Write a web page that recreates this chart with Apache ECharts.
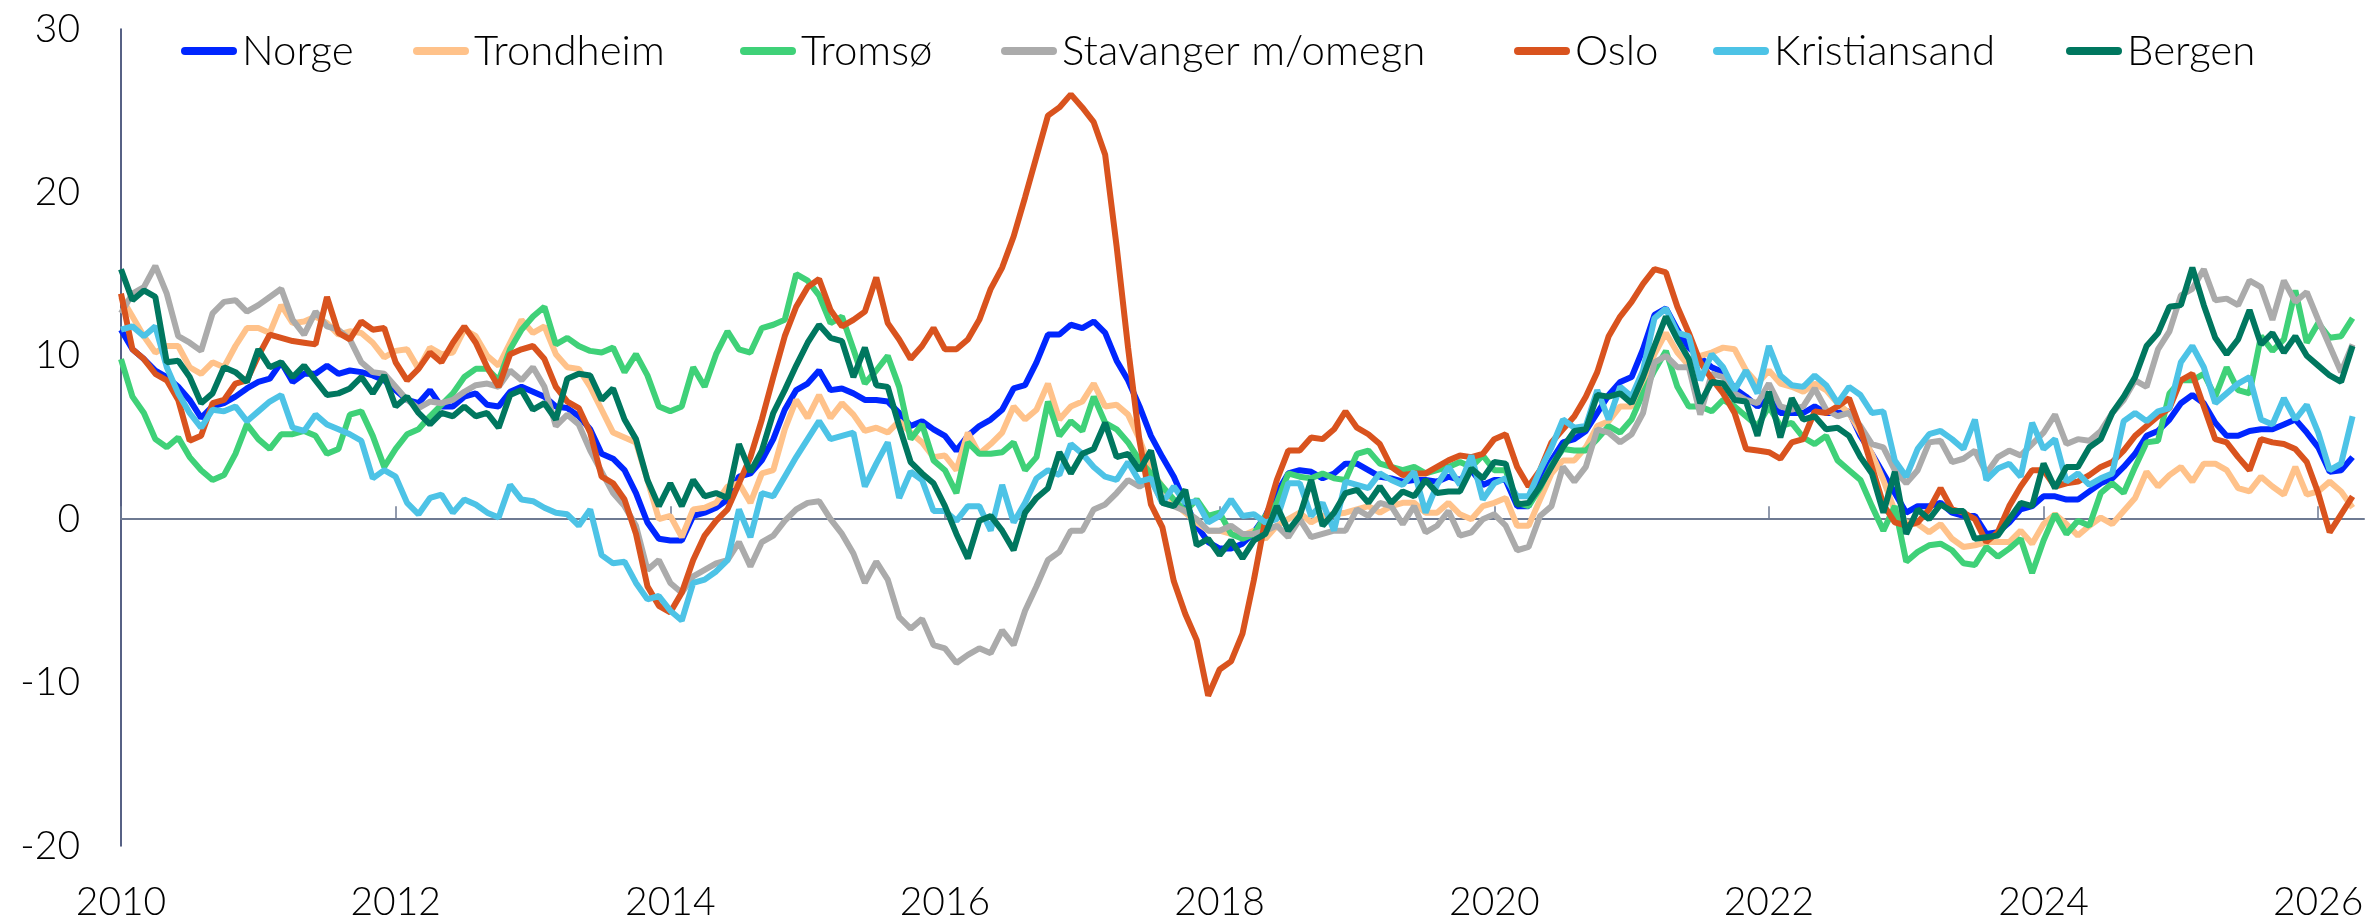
<!DOCTYPE html>
<html>
<head>
<meta charset="utf-8">
<script src="https://cdn.jsdelivr.net/npm/echarts@6/dist/echarts.min.js"></script>
<style>
  html, body { margin: 0; padding: 0; background: #fff; }
  #chart { width: 2370px; height: 923px; }
</style>
</head>
<body>
<div id="chart"></div>
<script>
// month labels, Jan 2010 .. May 2026 (last one has no data)
const months = [];
for (let y = 2010; y <= 2026; y++) {
  for (let m = 1; m <= 12; m++) {
    if (y === 2026 && m > 5) break;
    months.push(y + '-' + (m < 10 ? '0' + m : m));
  }
}

const seriesNames = ['Norge', 'Trondheim', 'Tromsø', 'Stavanger m/omegn', 'Oslo', 'Kristiansand', 'Bergen'];

const norge = [
  11.6,10.4,9.8,9.1,8.7,8.1,7.3,6.2,6.9,7.1,7.5,8.0,8.4,8.6,9.6,8.4,8.9,8.9,9.4,8.9,9.1,9.0,8.8,8.5,7.9,7.3,7.1,7.9,6.9,6.9,7.5,7.7,7.0,6.9,7.8,8.1,7.8,7.5,6.9,
  6.8,6.3,5.5,4.0,3.7,3.0,1.6,-0.2,-1.2,-1.3,-1.3,0.2,0.4,0.7,1.2,2.6,2.8,3.6,4.9,6.7,7.9,8.3,9.1,7.9,8.0,7.7,7.3,7.3,7.2,6.5,5.7,6.0,5.5,5.1,4.2,5.1,5.7,6.1,6.7,8.0,
  8.2,9.6,11.3,11.3,11.9,11.7,12.1,11.4,9.7,8.5,6.9,5.1,3.8,2.6,1.0,-0.4,-1.4,-1.8,-1.8,-1.5,-0.8,0.2,1.6,2.8,3.0,2.9,2.5,2.8,3.4,3.4,3.0,2.6,2.5,2.3,2.4,2.4,2.3,2.6,2.4,
  3.0,2.1,2.4,2.4,0.8,0.8,2.4,3.6,4.7,4.9,5.4,6.5,7.6,8.4,8.7,10.4,12.5,12.9,11.6,10.5,9.9,9.3,9.0,8.0,7.5,6.9,7.4,6.5,6.5,6.5,6.9,6.5,6.5,6.6,5.1,4.0,2.8,1.6,0.4,
  0.8,0.8,1.0,0.4,0.2,0.2,-0.9,-0.8,-0.2,0.6,0.8,1.4,1.4,1.2,1.2,1.7,2.2,2.5,3.2,4.0,5.1,5.4,6.1,7.1,7.6,7.1,5.9,5.1,5.1,5.4,5.5,5.5,5.8,6.1,5.3,4.4,2.9,3.0,3.8
];
const trondheim = [
  13.6,12.4,11.2,10.2,10.6,10.6,9.3,8.9,9.6,9.3,10.6,11.7,11.7,11.4,13.1,12.0,12.1,12.4,12.0,11.3,11.5,11.4,10.8,9.9,10.3,10.4,9.2,10.5,10.1,10.2,11.6,11.2,10.0,9.4,10.8,12.2,11.4,11.8,10.1,
  9.3,9.2,8.1,6.7,5.3,5.0,4.7,2.4,0.0,0.2,-1.1,0.6,0.7,1.0,2.0,2.2,1.0,2.8,3.0,5.5,7.3,6.2,7.6,6.2,7.1,6.4,5.4,5.6,5.3,6.0,5.3,4.7,3.8,3.9,3.0,5.3,4.0,4.6,5.3,6.9,
  6.1,6.7,8.3,6.1,6.9,7.2,8.3,6.9,7.0,6.4,4.9,3.0,2.0,1.0,0.4,-0.2,-0.7,-0.7,-0.9,-1.0,-0.7,-1.2,-0.4,0.0,0.4,-0.2,0.2,0.3,0.4,0.6,0.8,0.4,0.8,1.0,1.0,0.4,0.4,1.0,0.3,
  0.0,0.8,1.0,1.3,-0.4,-0.4,1.2,2.8,3.6,3.6,4.4,5.7,6.0,6.9,6.9,8.3,10.1,11.4,10.2,9.4,10.0,10.2,10.5,10.4,9.1,8.3,9.1,8.3,8.1,7.8,8.3,7.9,7.1,6.5,5.3,4.0,2.4,0.5,-0.2,
  -0.3,-0.8,-0.3,-1.2,-1.7,-1.6,-1.4,-1.4,-1.4,-0.7,-1.5,-0.3,0.3,-0.3,-1.0,-0.4,0.1,-0.3,0.5,1.3,2.9,2.0,2.7,3.2,2.3,3.4,3.4,3.0,1.9,1.7,2.6,2.0,1.5,3.2,1.5,1.7,2.3,1.7,0.7
];
const tromso = [
  9.8,7.5,6.5,4.9,4.4,5.0,3.8,3.0,2.4,2.7,4.0,5.8,4.9,4.3,5.2,5.2,5.4,5.1,4.0,4.3,6.4,6.6,5.1,3.2,4.3,5.2,5.5,6.3,7.0,7.7,8.7,9.2,9.2,8.5,10.4,11.6,12.4,13.0,10.7,
  11.1,10.6,10.3,10.2,10.5,9.0,10.1,8.8,6.9,6.6,6.9,9.3,8.1,10.1,11.5,10.4,10.2,11.7,11.9,12.2,15.0,14.6,13.7,12.0,12.4,10.4,8.3,9.1,10.0,8.1,4.9,5.8,3.6,3.0,1.6,4.7,4.0,4.0,4.1,4.7,
  3.0,3.8,7.2,5.1,6.0,5.4,7.5,5.9,5.5,4.7,3.6,2.8,2.0,1.2,0.5,1.2,0.2,0.4,-0.9,-1.2,-0.9,0.2,1.0,2.8,2.6,2.5,2.8,2.5,2.4,4.0,4.2,3.4,3.2,3.0,3.2,2.8,3.0,3.2,3.5,
  3.2,3.9,3.0,3.0,1.0,0.8,1.9,3.3,4.3,4.2,4.2,4.9,5.7,5.3,6.1,7.7,9.1,10.3,8.1,6.9,6.9,6.6,7.3,6.9,6.3,5.7,6.9,5.7,5.9,5.0,4.6,5.1,3.6,3.0,2.4,0.8,-0.7,0.8,-2.6,
  -2.0,-1.6,-1.5,-1.9,-2.7,-2.8,-1.7,-2.3,-1.8,-1.2,-3.3,-1.3,0.3,-0.9,-0.1,-0.4,1.6,2.2,1.6,3.2,4.7,4.8,7.7,8.5,8.5,8.9,7.5,9.3,7.9,7.7,11.2,10.3,11.0,14.0,10.8,12.0,11.1,11.2,12.3
];
const stavanger = [
  12.6,13.8,14.2,15.5,13.8,11.2,10.8,10.3,12.6,13.3,13.4,12.7,13.1,13.6,14.1,12.2,11.3,12.7,11.8,11.6,11.0,9.6,9.0,8.9,8.1,7.3,6.8,7.2,7.1,7.3,7.8,8.2,8.3,8.1,9.1,8.5,9.3,8.1,5.7,
  6.4,5.8,4.2,2.9,1.6,0.8,-0.4,-3.1,-2.5,-3.9,-4.5,-3.5,-3.1,-2.7,-2.5,-1.4,-2.9,-1.4,-1.0,-0.1,0.6,1.0,1.1,0.0,-0.9,-2.1,-3.9,-2.6,-3.7,-6.0,-6.7,-6.1,-7.7,-7.9,-8.8,-8.3,-7.9,-8.2,-6.8,-7.7,
  -5.6,-4.1,-2.5,-2.0,-0.7,-0.7,0.6,0.9,1.6,2.4,2.0,2.4,1.0,0.8,0.5,0.0,-0.7,-0.7,-0.4,-0.9,-0.9,-0.7,-0.4,-1.1,0.0,-1.1,-0.9,-0.7,-0.7,0.6,0.2,1.0,0.8,-0.3,0.8,-0.8,-0.4,0.5,-1.0,
  -0.8,0.0,0.3,-0.4,-1.9,-1.7,0.2,0.8,3.2,2.3,3.2,5.5,5.3,4.7,5.2,6.5,9.6,10.0,9.3,9.3,6.4,8.9,8.7,7.7,7.3,7.1,8.3,6.9,6.7,6.9,8.0,6.7,6.3,6.5,5.7,4.6,4.4,3.0,2.2,
  3.0,4.7,4.8,3.5,3.7,4.2,2.8,3.8,4.2,3.9,4.6,5.3,6.4,4.6,4.9,4.8,5.4,6.5,7.3,8.5,8.1,10.4,11.5,13.7,14.1,15.3,13.4,13.5,13.1,14.6,14.2,12.2,14.6,13.3,13.9,12.2,10.6,9.0,10.7
];
const oslo = [
  13.8,10.4,9.8,8.9,8.5,7.3,4.8,5.1,7.1,7.3,8.3,8.5,10.0,11.3,11.1,10.9,10.8,10.7,13.6,11.4,11.0,12.1,11.6,11.7,9.6,8.5,9.2,10.2,9.6,10.8,11.8,10.8,9.3,8.1,10.1,10.4,10.6,9.8,8.1,
  7.2,6.8,5.3,2.6,2.2,1.2,-0.9,-4.1,-5.3,-5.7,-4.5,-2.5,-1.0,-0.1,0.6,2.2,3.8,6.1,8.7,11.2,13.0,14.2,14.7,12.8,11.8,12.2,12.7,14.8,12.0,11.0,9.8,10.6,11.7,10.4,10.4,11.0,12.2,14.1,15.4,17.3,
  19.7,22.2,24.7,25.2,26.0,25.2,24.3,22.3,16.7,10.5,4.8,0.9,-0.5,-3.8,-5.8,-7.4,-10.8,-9.2,-8.7,-7.0,-3.7,0.0,2.4,4.2,4.2,5.0,4.9,5.5,6.6,5.6,5.2,4.6,3.2,2.7,2.8,2.8,3.2,3.6,3.9,
  3.8,4.0,4.9,5.2,3.2,2.0,3.0,4.7,5.5,6.3,7.5,9.0,11.2,12.4,13.3,14.4,15.3,15.1,13.0,11.4,9.6,8.6,7.7,6.5,4.3,4.2,4.1,3.7,4.7,4.9,6.6,6.5,6.9,7.4,5.5,3.2,0.9,-0.2,-0.4,
  -0.2,0.6,1.9,0.6,0.4,0.0,-1.4,-0.8,0.8,2.0,3.0,3.0,2.0,2.2,2.3,2.7,3.2,3.5,4.2,5.1,5.7,6.3,6.8,8.5,8.9,6.9,4.9,4.7,3.8,3.0,4.9,4.7,4.6,4.3,3.5,1.6,-0.8,0.3,1.4
];
const kristiansand = [
  11.6,11.8,11.2,11.8,9.3,7.7,6.5,5.6,6.7,6.6,6.9,6.0,6.6,7.2,7.6,5.6,5.4,6.4,5.8,5.5,5.2,4.8,2.5,3.0,2.6,1.0,0.3,1.3,1.5,0.4,1.2,0.9,0.4,0.1,2.1,1.2,1.1,0.7,0.4,
  0.3,-0.4,0.6,-2.2,-2.7,-2.6,-3.9,-4.9,-4.7,-5.6,-6.2,-3.9,-3.7,-3.2,-2.5,0.6,-1.1,1.6,1.4,2.6,3.8,4.9,6.0,4.9,5.1,5.3,2.0,3.4,4.7,1.3,2.9,2.4,0.5,0.5,-0.1,0.8,0.8,-0.7,2.1,-0.2,
  1.0,2.5,3.0,2.7,4.6,4.0,3.2,2.6,2.4,3.5,2.3,2.5,1.0,2.0,1.0,1.1,-0.2,0.2,1.2,0.2,0.3,-0.2,0.0,2.2,2.2,0.2,1.0,-0.7,2.3,2.1,1.9,2.8,2.4,2.1,2.9,0.4,2.1,3.2,2.1,
  3.9,1.2,2.2,2.5,1.4,1.4,3.0,4.4,6.1,5.6,5.7,7.9,6.1,8.1,7.5,9.1,12.3,12.9,11.4,11.2,8.5,10.1,9.3,7.9,9.1,7.7,10.6,8.8,8.2,8.1,8.8,8.2,7.1,8.1,7.6,6.5,6.6,3.6,2.6,
  4.3,5.2,5.4,4.9,4.3,6.1,2.4,3.1,3.4,2.6,5.9,4.3,4.9,2.3,2.8,2.1,2.5,2.8,6.0,6.5,6.0,6.6,6.8,9.6,10.6,9.3,7.1,7.7,8.3,8.7,6.1,5.8,7.4,6.1,7.0,5.3,3.0,3.4,6.3
];
const bergen = [
  15.3,13.4,14.0,13.6,9.6,9.7,8.7,7.1,7.7,9.3,9.0,8.4,10.4,9.3,9.6,8.7,9.4,8.5,7.6,7.7,8.0,8.7,7.7,8.8,6.9,7.5,6.5,5.8,6.5,6.3,6.9,6.3,6.5,5.6,7.6,7.9,6.7,7.1,6.1,
  8.6,8.9,8.8,7.3,8.0,6.1,4.9,2.4,0.8,2.2,0.8,2.4,1.4,1.6,1.3,4.6,2.9,4.2,6.5,7.9,9.4,10.8,11.9,11.1,10.9,8.7,10.5,8.2,8.1,5.7,3.5,2.8,2.2,0.8,-0.9,-2.4,-0.1,0.2,-0.7,-1.9,
  0.4,1.3,1.9,4.1,2.8,4.0,4.3,5.9,3.8,4.0,3.0,4.2,1.0,0.8,1.8,-1.6,-1.2,-2.2,-1.3,-2.4,-1.3,-0.9,0.8,-0.7,0.2,2.4,-0.4,0.4,1.6,1.8,1.0,2.0,1.0,1.7,1.4,2.4,1.6,1.7,1.7,
  3.1,2.5,3.5,3.4,0.9,1.0,2.0,3.2,4.4,5.4,5.5,7.6,7.5,7.7,7.1,8.7,10.6,12.4,11.0,9.8,7.1,8.4,8.3,7.3,7.2,5.1,7.8,5.0,7.4,6.1,6.3,5.5,5.6,5.1,3.8,2.8,0.4,2.9,-0.9,
  0.6,0.0,0.9,0.5,0.5,-1.2,-1.1,-1.0,0.0,1.0,0.8,3.4,1.9,3.2,3.2,4.4,4.9,6.5,7.5,8.7,10.6,11.4,13.0,13.1,15.4,13.1,11.1,10.1,11.0,12.8,10.7,11.4,10.2,11.2,10.0,9.4,8.8,8.4,10.6
];

const seriesData = [norge, trondheim, tromso, stavanger, oslo, kristiansand, bergen];
const colors = ['#0026ff', '#ffc28a', '#3fd178', '#ababab', '#d9531e', '#4dc3e6', '#00775f'];
const yTicks = [-20, -10, 0, 10, 20, 30];

// where each legend entry starts (px from left)
const legendLeft = [181, 413, 740, 1001, 1514, 1713, 2066];

const font = 'Lato, "Open Sans", sans-serif';
const legendIcon = 'path://M4,0H52A4,4,0,0,1,52,8H4A4,4,0,0,1,4,0Z';

// show label/tick on January of even years
const everyTwoYears = (idx, val) => val.slice(5) === '01' && (+val.slice(0, 4)) % 2 === 0;

const chart = echarts.init(document.getElementById('chart'));
chart.setOption({
  animation: false,
  backgroundColor: '#fff',
  color: colors,
  grid: { left: 121, right: 6, top: 29, bottom: 77 },
  legend: seriesNames.map((name, i) => ({
    data: [name],
    left: legendLeft[i],
    top: 30,
    padding: 0,
    itemWidth: 56,
    itemHeight: 8,
    icon: legendIcon,
    selectedMode: false,
    textStyle: { fontSize: 42, fontFamily: font, fontWeight: 300, color: '#000' }
  })),
  xAxis: [
    {
      type: 'category',
      data: months,
      boundaryGap: false,
      axisLine: { show: false, onZero: false },
      axisTick: { show: false },
      axisLabel: {
        interval: everyTwoYears,
        formatter: v => v.slice(0, 4),
        fontSize: 39,
        fontFamily: font,
        fontWeight: 300,
        color: '#000',
        margin: 37
      },
      splitLine: { show: false }
    },
    {
      type: 'category',
      data: months,
      boundaryGap: false,
      position: 'bottom',
      axisLine: { show: true, onZero: true, lineStyle: { color: '#6e7a92', width: 2 } },
      axisTick: { show: true, inside: true, length: 13, interval: everyTwoYears, lineStyle: { color: '#6e7a92', width: 1.5 } },
      axisLabel: { show: false },
      splitLine: { show: false }
    }
  ],
  yAxis: {
    type: 'value',
    min: yTicks[0],
    max: yTicks[yTicks.length - 1],
    interval: 10,
    axisLine: { show: true, lineStyle: { color: '#1f2d5c', width: 1.5 } },
    axisTick: { show: false },
    splitLine: { show: false },
    axisLabel: { fontSize: 39, fontFamily: font, fontWeight: 300, color: '#000', margin: 41 }
  },
  series: seriesNames.map((name, i) => ({
    name: name,
    type: 'line',
    data: seriesData[i],
    symbol: 'none',
    lineStyle: { width: 6, color: colors[i] },
    itemStyle: { color: colors[i] }
  }))
});
</script>
</body>
</html>
